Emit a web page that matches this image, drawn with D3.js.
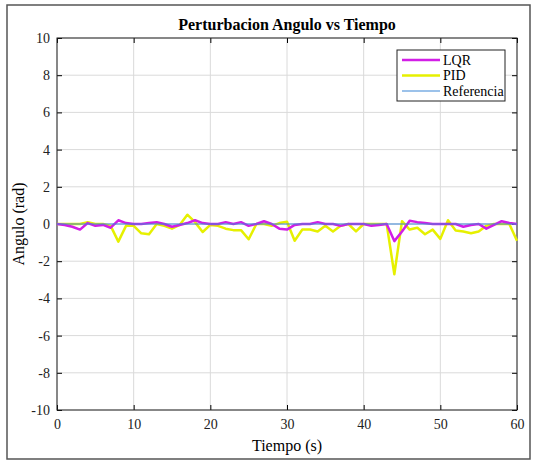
<!DOCTYPE html>
<html>
<head>
<meta charset="utf-8">
<script src="https://cdn.jsdelivr.net/npm/d3@7"></script>
<style>
  body { margin: 0; background: #fff; }
</style>
</head>
<body>
<svg id="chart"></svg>
<script>
const width = 533, height = 461;
const marginLeft = 57, marginRight = 16, marginTop = 38, marginBottom = 51;
const serif = '"Liberation Serif", "Times New Roman", Times, "DejaVu Serif", serif';

// tiempo (s), un punto por segundo
const tiempo = d3.range(0, 61);
const lqr = [0, -0.05, -0.15, -0.3, 0.05, -0.1, -0.05, -0.2, 0.2, 0.05,
  0, 0, 0.05, 0.1, 0, -0.15, -0.05, 0.05, 0.2, 0.05,
  0, 0, 0.1, 0, 0.1, -0.1, 0, 0.15, 0, -0.25,
  -0.3, -0.05, 0, 0, 0.1, 0, 0, -0.1, 0, 0,
  0, -0.1, -0.05, 0, -0.92, -0.4, 0.17, 0.1, 0.05, 0,
  0, 0, 0, -0.15, -0.05, 0, -0.25, -0.05, 0.15, 0.05, 0];
const pid = [0, 0, 0, 0, 0.1, 0, 0, -0.1, -0.95, -0.1,
  -0.1, -0.5, -0.55, 0, -0.1, -0.25, -0.05, 0.5, 0.1, -0.43,
  -0.05, -0.1, -0.25, -0.33, -0.33, -0.82, 0, 0, -0.1, 0.05,
  0.12, -0.9, -0.3, -0.3, -0.4, -0.1, -0.4, -0.1, 0, -0.4,
  0, 0, 0, 0, -2.7, 0.15, -0.3, -0.2, -0.55, -0.3,
  -0.8, 0.2, -0.35, -0.4, -0.5, -0.4, -0.1, 0, 0, 0, -0.9];
const referencia = tiempo.map(() => 0);
const xTicks = [0, 10, 20, 30, 40, 50, 60];
const yTicks = [-10, -8, -6, -4, -2, 0, 2, 4, 6, 8, 10];
const seriesNames = ['LQR', 'PID', 'Referencia'];
const seriesColors = ['#d21ee6', '#e6f000', '#3a86d6'];

const svg = d3.select('#chart')
  .attr('width', width)
  .attr('height', height)
  .attr('font-family', serif);

// marco exterior
svg.append('rect')
  .attr('x', 7).attr('y', 5).attr('width', 523).attr('height', 454)
  .attr('fill', '#fff').attr('stroke', '#555').attr('stroke-width', 1.5);

const x = d3.scaleLinear().domain([0, 60]).range([marginLeft, width - marginRight]);
const y = d3.scaleLinear().domain([-10, 10]).range([height - marginBottom, marginTop]);

// grid
svg.append('g').selectAll('line').data(xTicks).join('line')
  .attr('x1', d => x(d)).attr('x2', d => x(d))
  .attr('y1', y(-10)).attr('y2', y(10))
  .attr('stroke', '#dadada').attr('stroke-width', 1);
svg.append('g').selectAll('line').data(yTicks).join('line')
  .attr('x1', x(0)).attr('x2', x(60))
  .attr('y1', d => y(d)).attr('y2', d => y(d))
  .attr('stroke', '#dadada').attr('stroke-width', 1);

// ejes
const axFont = g => {
  g.attr('font-family', serif).attr('font-size', 14);
  g.selectAll('text').attr('font-family', serif).attr('fill', '#222');
};

svg.append('g')
  .attr('transform', `translate(0,${y(-10)})`)
  .call(d3.axisBottom(x).tickValues(xTicks).tickSize(-5).tickPadding(9))
  .call(g => g.select('.domain').remove())
  .call(axFont);
svg.append('g')
  .attr('transform', `translate(${x(0)},0)`)
  .call(d3.axisLeft(y).tickValues(yTicks).tickSize(-5).tickPadding(7).tickFormat(d => String(d)))
  .call(g => g.select('.domain').remove())
  .call(axFont);
svg.append('g')
  .attr('transform', `translate(0,${y(10)})`)
  .call(d3.axisTop(x).tickValues(xTicks).tickSize(-5).tickFormat(''))
  .call(g => g.select('.domain').remove());
svg.append('g')
  .attr('transform', `translate(${x(60)},0)`)
  .call(d3.axisRight(y).tickValues(yTicks).tickSize(-5).tickFormat(''))
  .call(g => g.select('.domain').remove());

svg.append('rect')
  .attr('x', x(0)).attr('y', y(10))
  .attr('width', x(60) - x(0)).attr('height', y(-10) - y(10))
  .attr('fill', 'none').attr('stroke', '#222').attr('stroke-width', 1);

// lineas
const line = d3.line().x((d, i) => x(tiempo[i])).y(d => y(d));
const series = [lqr, pid, referencia];
const widths = [2.5, 2.5, 1.2];
[1, 0, 2].forEach(k => {
  svg.append('path')
    .datum(series[k])
    .attr('d', line)
    .attr('fill', 'none')
    .attr('stroke', seriesColors[k])
    .attr('stroke-width', widths[k])
    .attr('stroke-linejoin', 'round');
});

// titulo y etiquetas
svg.append('text')
  .attr('x', (x(0) + x(60)) / 2).attr('y', 30)
  .attr('text-anchor', 'middle')
  .attr('font-family', serif)
  .attr('font-size', 16).attr('font-weight', 'bold')
  .text('Perturbacion Angulo vs Tiempo');
svg.append('text')
  .attr('x', (x(0) + x(60)) / 2).attr('y', 451)
  .attr('text-anchor', 'middle')
  .attr('font-family', serif)
  .attr('font-size', 16)
  .text('Tiempo (s)');
svg.append('text')
  .attr('transform', `translate(24,${(y(-10) + y(10)) / 2}) rotate(-90)`)
  .attr('text-anchor', 'middle')
  .attr('font-family', serif)
  .attr('font-size', 16)
  .text('Angulo (rad)');

// leyenda
const legend = svg.append('g').attr('transform', 'translate(397,50)');
legend.append('rect')
  .attr('width', 108).attr('height', 51)
  .attr('fill', '#fff').attr('stroke', '#222').attr('stroke-width', 1);
seriesNames.forEach((name, i) => {
  const ly = 10 + i * 15.5;
  legend.append('line')
    .attr('x1', 5).attr('x2', 43).attr('y1', ly).attr('y2', ly)
    .attr('stroke', seriesColors[i]).attr('stroke-width', widths[i]);
  legend.append('text')
    .attr('x', 46).attr('y', ly + 4.5)
    .attr('font-family', serif)
    .attr('font-size', 14)
    .text(name);
});
</script>
</body>
</html>
